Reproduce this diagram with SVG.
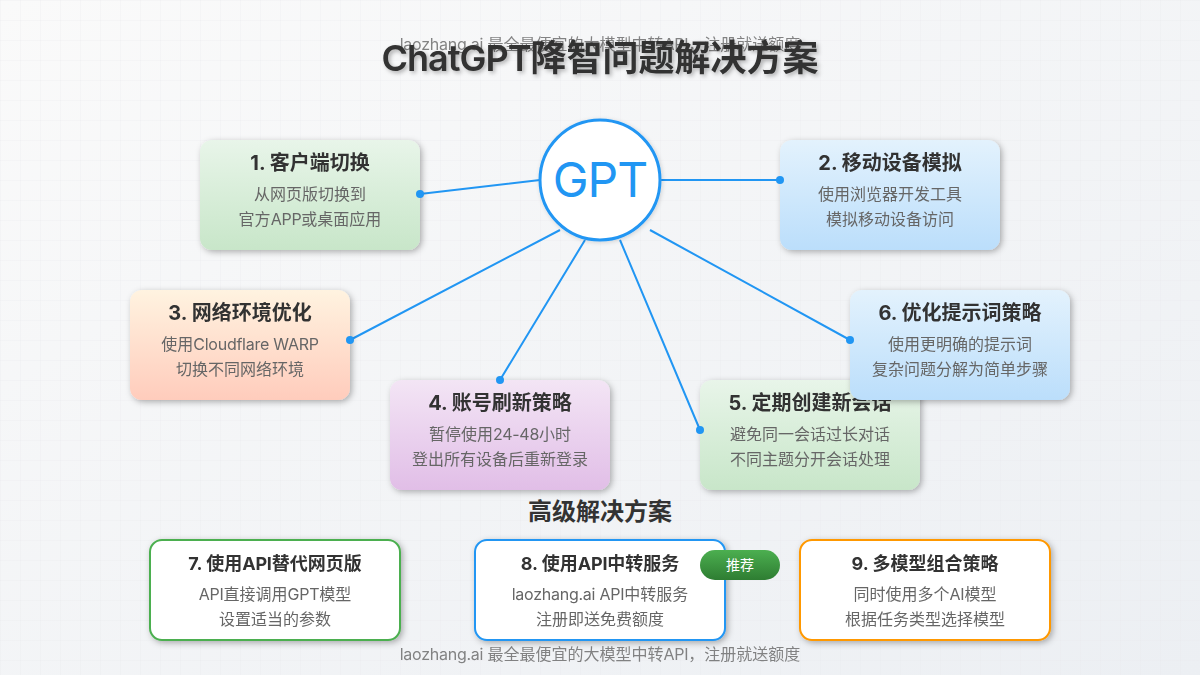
<svg xmlns="http://www.w3.org/2000/svg" width="1200" height="675" viewBox="0 0 1200 675">
<style>
text{font-family:Inter,"Noto Sans CJK SC",sans-serif;text-anchor:middle}
.t{font-size:20px;font-weight:700;fill:#333}
.b{font-size:16px;fill:#666}
.st{font-size:18px;font-weight:700;fill:#333}
.wm{font-size:16px;fill:#666;opacity:.8}
.l{letter-spacing:-.25px}
.card{filter:url(#sh)}
.w{fill:#fff;stroke-width:2}
.ln{stroke:#2196f3;stroke-width:2;fill:none}
.dot{fill:#2196f3}
</style>
<defs>
<linearGradient id="bg" x1="0" y1="0" x2="1" y2="1"><stop offset="0" stop-color="#fafafa"/><stop offset="1" stop-color="#eceff3"/></linearGradient>
<linearGradient id="g" x1="0" y1="0" x2="0" y2="1"><stop offset="0" stop-color="#e8f5e9"/><stop offset="1" stop-color="#c8e6c9"/></linearGradient>
<linearGradient id="bl" x1="0" y1="0" x2="0" y2="1"><stop offset="0" stop-color="#e3f2fd"/><stop offset="1" stop-color="#bbdefb"/></linearGradient>
<linearGradient id="o" x1="0" y1="0" x2="0" y2="1"><stop offset="0" stop-color="#fff3e0"/><stop offset="1" stop-color="#ffccbc"/></linearGradient>
<linearGradient id="p" x1="0" y1="0" x2="0" y2="1"><stop offset="0" stop-color="#f3e5f5"/><stop offset="1" stop-color="#e1bee7"/></linearGradient>
<linearGradient id="btn" x1="0" y1="0" x2="0" y2="1"><stop offset="0" stop-color="#4caf50"/><stop offset="1" stop-color="#2e7d32"/></linearGradient>
<pattern id="grid" width="20" height="20" patternUnits="userSpaceOnUse"><path d="M20 0H0V20" fill="none" stroke="#e6e8ea" stroke-opacity=".5" stroke-width="1"/></pattern>
<filter id="sh" x="-20%" y="-20%" width="140%" height="150%"><feDropShadow dx="2" dy="2" stdDeviation="3" flood-color="#000" flood-opacity=".3"/></filter>
<filter id="hs" x="-20%" y="-20%" width="140%" height="140%"><feDropShadow dx="1" dy="1" stdDeviation="2" flood-color="#000" flood-opacity=".15"/></filter>
<filter id="ts" x="-10%" y="-30%" width="120%" height="170%"><feDropShadow dx="2" dy="2" stdDeviation="2" flood-color="#000" flood-opacity=".3"/></filter>
</defs>
<rect width="1200" height="675" fill="url(#bg)"/>
<rect width="1200" height="675" fill="url(#grid)"/>
<text class="wm" x="600" y="50"><tspan class="l">laozhang.ai </tspan>最全最便宜的大模型中转<tspan class="l">API</tspan>，注册就送额度</text>
<text x="600" y="71" font-size="36" font-weight="700" fill="#333" filter="url(#ts)"><tspan font-weight="600" letter-spacing="-1">ChatGPT</tspan>降智问题解决方案</text>
<g id="connectors">
<path class="ln" d="M540 180 420 194M660 180H780M560 230 350 340M585 240 500 380M620 240 700 430M650 230 850 340"/>
</g>
<g id="node-1" class="card"><rect x="200" y="140" width="220" height="110" rx="12" fill="url(#g)"/><text class="t" x="310" y="170">1. 客户端切换</text><text class="b" x="310" y="200">从网页版切换到</text><text class="b" x="310" y="225">官方<tspan class="l">APP</tspan>或桌面应用</text></g>
<g id="node-2" class="card"><rect x="780" y="140" width="220" height="110" rx="12" fill="url(#bl)"/><text class="t" x="890" y="170">2. 移动设备模拟</text><text class="b" x="890" y="200">使用浏览器开发工具</text><text class="b" x="890" y="225">模拟移动设备访问</text></g>
<g id="node-3" class="card"><rect x="130" y="290" width="220" height="110" rx="12" fill="url(#o)"/><text class="t" x="240" y="320">3. 网络环境优化</text><text class="b" x="240" y="350">使用<tspan class="l">Cloudflare WARP</tspan></text><text class="b" x="240" y="375">切换不同网络环境</text></g>
<g id="node-4" class="card"><rect x="390" y="380" width="220" height="110" rx="12" fill="url(#p)"/><text class="t" x="500" y="410">4. 账号刷新策略</text><text class="b" x="500" y="440">暂停使用<tspan class="l">24-48</tspan>小时</text><text class="b" x="500" y="465">登出所有设备后重新登录</text></g>
<g id="node-5" class="card"><rect x="700" y="380" width="220" height="110" rx="12" fill="url(#g)"/><text class="t" x="810" y="410">5. 定期创建新会话</text><text class="b" x="810" y="440">避免同一会话过长对话</text><text class="b" x="810" y="465">不同主题分开会话处理</text></g>
<g id="node-6" class="card"><rect x="850" y="290" width="220" height="110" rx="12" fill="url(#bl)"/><text class="t" x="960" y="320">6. 优化提示词策略</text><text class="b" x="960" y="350">使用更明确的提示词</text><text class="b" x="960" y="375">复杂问题分解为简单步骤</text></g>
<g id="dots"><circle class="dot" cx="420" cy="194" r="4"/><circle class="dot" cx="780" cy="180" r="4"/><circle class="dot" cx="350" cy="340" r="4"/><circle class="dot" cx="500" cy="380" r="4"/><circle class="dot" cx="700" cy="430" r="4"/><circle class="dot" cx="850" cy="340" r="4"/></g>
<g id="hub"><circle cx="600" cy="180" r="60" fill="#fff" stroke="#2196f3" stroke-width="3" filter="url(#hs)"/><text x="600" y="197" font-size="48" letter-spacing="-1" fill="#2196f3">GPT</text></g>
<text x="600" y="520" font-size="24" font-weight="700" fill="#333">高级解决方案</text>
<g id="node-7" class="card"><rect class="w" x="150" y="540" width="250" height="100" rx="12" stroke="#4caf50"/><text class="st" x="275" y="570">7. 使用<tspan class="l">API</tspan>替代网页版</text><text class="b" x="275" y="600"><tspan class="l">API</tspan>直接调用<tspan class="l">GPT</tspan>模型</text><text class="b" x="275" y="625">设置适当的参数</text></g>
<g id="node-8" class="card"><rect class="w" x="475" y="540" width="250" height="100" rx="12" stroke="#2196f3"/><text class="st" x="600" y="570">8. 使用<tspan class="l">API</tspan>中转服务</text><text class="b" x="600" y="600"><tspan class="l">laozhang.ai API</tspan>中转服务</text><text class="b" x="600" y="625">注册即送免费额度</text></g>
<g id="node-9" class="card"><rect class="w" x="800" y="540" width="250" height="100" rx="12" stroke="#ff9800"/><text class="st" x="925" y="570">9. 多模型组合策略</text><text class="b" x="925" y="600">同时使用多个<tspan class="l">AI</tspan>模型</text><text class="b" x="925" y="625">根据任务类型选择模型</text></g>
<g id="badge"><rect x="700" y="550" width="80" height="30" rx="15" fill="url(#btn)"/><text x="740" y="570" font-size="14" fill="#fff">推荐</text></g>
<text class="wm" x="600" y="660"><tspan class="l">laozhang.ai </tspan>最全最便宜的大模型中转<tspan class="l">API</tspan>，注册就送额度</text>
</svg>
